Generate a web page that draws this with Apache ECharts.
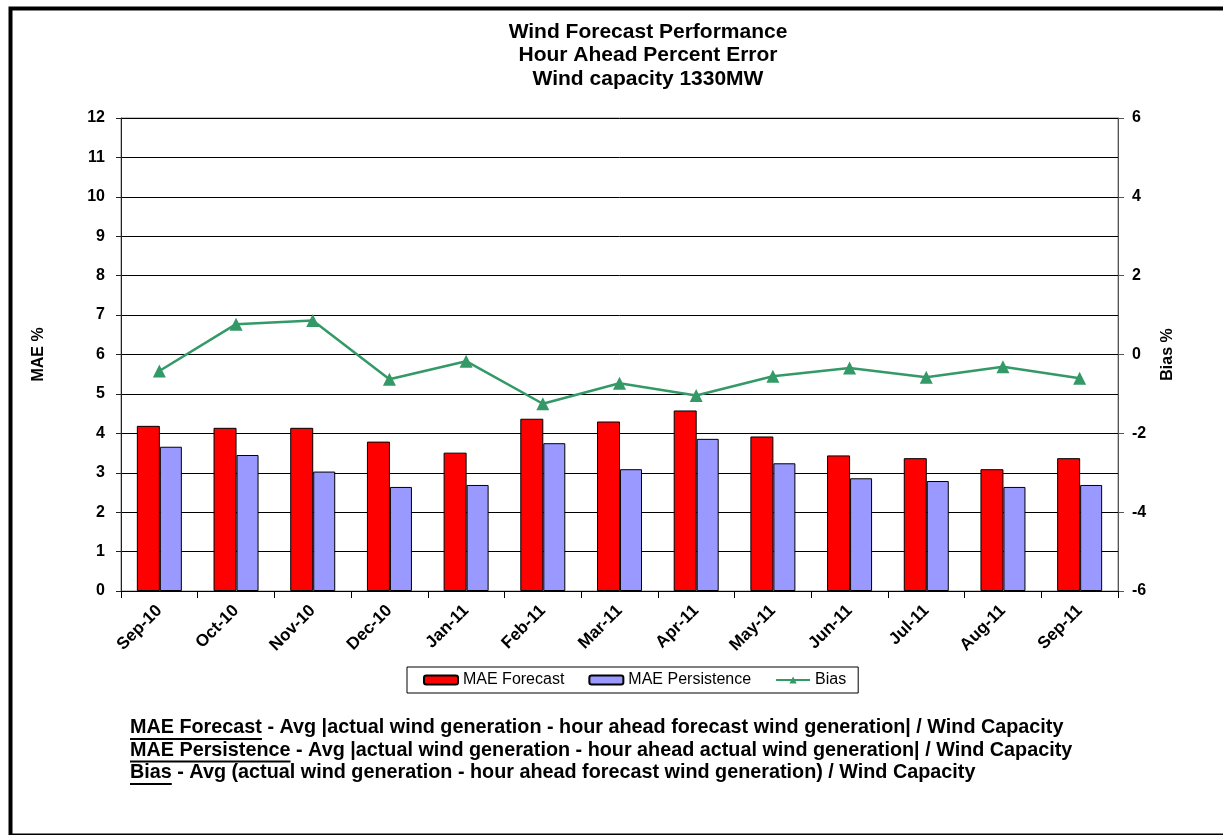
<!DOCTYPE html>
<html>
<head>
<meta charset="utf-8">
<script src="https://cdn.jsdelivr.net/npm/echarts@6/dist/echarts.min.js"></script>
<style>
html,body{margin:0;padding:0;background:#fff;}
#c{width:1223px;height:835px;}
</style>
</head>
<body>
<div id="c"></div>
<script>
const categories = ['Sep-10','Oct-10','Nov-10','Dec-10','Jan-11','Feb-11','Mar-11','Apr-11','May-11','Jun-11','Jul-11','Aug-11','Sep-11'];
const maeForecast = [4.19,4.14,4.14,3.79,3.51,4.37,4.30,4.58,3.92,3.44,3.37,3.09,3.37];
const maePersistence = [3.66,3.45,3.03,2.64,2.69,3.75,3.09,3.86,3.24,2.86,2.79,2.64,2.69];
const bias = [-0.42,0.77,0.86,-0.63,-0.17,-1.25,-0.73,-1.04,-0.55,-0.34,-0.58,-0.31,-0.60];
const titleLines = ['Wind Forecast Performance','Hour Ahead Percent Error','Wind capacity 1330MW'];
const notes = [
  ['MAE Forecast',' - Avg |actual wind generation - hour ahead forecast wind generation| / Wind Capacity'],
  ['MAE Persistence',' - Avg |actual wind generation - hour ahead actual wind generation| / Wind Capacity'],
  ['Bias',' - Avg (actual wind generation - hour ahead forecast wind generation) / Wind Capacity']
];

const FONT = 'Liberation Sans, Arial, sans-serif';
const noteFont = 'bold 19.8px Liberation Sans';
const ctx = document.createElement('canvas').getContext('2d');
ctx.font = noteFont;

const graphics = [{
  type:'rect', left:8, top:6, shape:{x:0,y:0,width:1225,height:827},
  style:{fill:'none', stroke:'#000', lineWidth:4}, silent:true
}];
const noteX = 130, noteY0 = 718, noteDY = 22.5;
notes.forEach((n,i)=>{
  const w = ctx.measureText(n[0]).width;
  const y = noteY0 + i*noteDY;
  graphics.push({type:'text', x:noteX, y:y, style:{text:n[0]+n[1], font:noteFont, fill:'#000'}});
  graphics.push({type:'line', shape:{x1:noteX, y1:y+21, x2:noteX+w, y2:y+21}, style:{stroke:'#000', lineWidth:1.8}});
});

const chart = echarts.init(document.getElementById('c'));
chart.setOption({
  backgroundColor:'#fff',
  animation:false,
  textStyle:{fontFamily:FONT},
  title:{
    text: titleLines.join('\n'),
    left: 643, top: 15, textAlign:'center',
    textStyle:{fontSize:21, fontWeight:'bold', color:'#000', lineHeight:23.5, fontFamily:FONT}
  },
  grid:{left:121, right:105, top:118, bottom:244, show:true, borderColor:'#888', borderWidth:1},
  legend:{
    left:407, top:667, width:452,
    padding:[5,12,5,16],
    borderColor:'#000', borderWidth:1,
    itemGap:24, itemWidth:34, itemHeight:9,
    textStyle:{fontSize:16, color:'#000', fontFamily:FONT},
    data:['MAE Forecast','MAE Persistence','Bias']
  },
  xAxis:{
    type:'category', data:categories,
    boundaryGap:true,
    axisLine:{lineStyle:{color:'#000', width:1}},
    axisTick:{show:true, alignWithLabel:false, length:7, lineStyle:{color:'#000'}},
    axisLabel:{rotate:45, interval:0, fontSize:17, fontWeight:'bold', color:'#000', margin:17}
  },
  yAxis:[{
    type:'value', min:0, max:12, interval:1,
    name:'MAE %', nameLocation:'middle', nameGap:74, nameRotate:90,
    nameTextStyle:{fontSize:16, fontWeight:'bold', color:'#000'},
    axisLine:{show:true, lineStyle:{color:'#222'}},
    axisTick:{show:true, length:5, lineStyle:{color:'#222'}},
    axisLabel:{fontSize:16, fontWeight:'bold', color:'#000', margin:16},
    splitLine:{show:true, lineStyle:{color:'#000', width:1}}
  },{
    type:'value', min:-6, max:6, interval:2,
    name:'Bias %', nameLocation:'middle', nameGap:42, nameRotate:90,
    nameTextStyle:{fontSize:16, fontWeight:'bold', color:'#000'},
    axisLine:{show:true, lineStyle:{color:'#555'}},
    axisTick:{show:true, length:6, lineStyle:{color:'#555'}},
    axisLabel:{fontSize:16, fontWeight:'bold', color:'#000', margin:14},
    splitLine:{show:false}
  }],
  series:[{
    name:'MAE Forecast', type:'bar', data:maeForecast, barWidth:23, barGap:'0%',
    itemStyle:{color:'#ff0000', borderColor:'#000', borderWidth:1}
  },{
    name:'MAE Persistence', type:'bar', data:maePersistence, barWidth:22, barGap:'0%',
    itemStyle:{color:'#9999ff', borderColor:'#000', borderWidth:1}
  },{
    name:'Bias', type:'line', yAxisIndex:1, data:bias,
    symbol:'triangle', symbolSize:13,
    lineStyle:{color:'#339966', width:2.5},
    itemStyle:{color:'#339966'}
  }],
  graphic: graphics
});
</script>
</body>
</html>
